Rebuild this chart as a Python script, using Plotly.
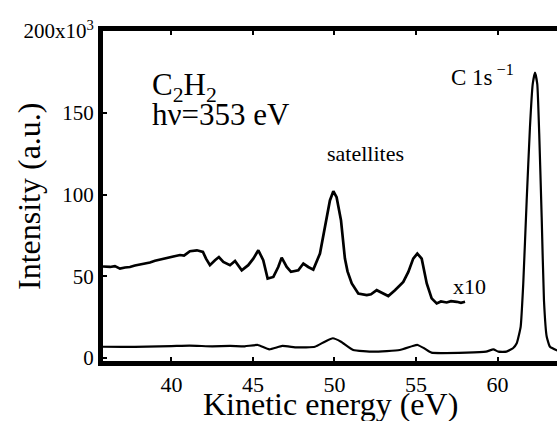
import plotly.graph_objects as go

# Upper trace: satellite region magnified x10 (kinetic energy in eV, intensity in 10^3 counts)
sat_energy = [35.80, 36.23, 36.53, 36.84, 37.15, 37.45, 37.76, 38.07, 38.37, 38.68,
              38.99, 39.29, 39.60, 39.91, 40.21, 40.52, 40.77, 40.95, 41.13, 41.56,
              41.93, 42.12, 42.36, 42.67, 42.91, 43.18, 43.59, 43.90, 44.31, 44.71,
              45.02, 45.33, 45.63, 45.90, 46.25, 46.55, 46.76, 47.07, 47.33, 47.78,
              48.09, 48.39, 48.70, 49.11, 49.42, 49.72, 49.93, 50.13, 50.40, 50.64,
              50.80, 51.06, 51.46, 51.98, 52.24, 52.59, 52.90, 53.30, 53.71, 54.22,
              54.53, 54.83, 55.08, 55.35, 55.66, 55.96, 56.27, 56.53, 56.88, 57.15,
              57.50, 57.76, 58.01]
sat_intensity = [56.0, 55.7, 56.2, 54.7, 55.4, 55.7, 56.6, 57.2, 57.6, 58.4,
                 59.5, 60.2, 60.6, 61.6, 62.0, 63.0, 62.6, 63.9, 65.3, 65.9,
                 64.9, 60.8, 56.8, 59.8, 61.8, 58.8, 56.8, 59.4, 53.7, 56.8,
                 60.8, 65.9, 59.8, 48.6, 49.6, 55.7, 61.4, 55.7, 52.7, 53.7,
                 57.8, 55.7, 54.1, 63.9, 80.1, 96.4, 102.0, 98.4, 84.2, 60.8,
                 53.0, 45.6, 39.5, 38.5, 39.0, 41.5, 39.9, 37.9, 41.5, 46.6,
                 52.7, 60.8, 63.9, 60.8, 45.6, 36.5, 33.4, 34.6, 34.0, 34.8,
                 34.4, 33.8, 34.4]

# Lower trace: full spectrum with the C 1s main line
full_energy = [35.80, 37.00, 38.50, 40.00, 41.10, 42.50, 43.60, 44.50, 45.30, 46.00,
               46.80, 47.70, 48.80, 49.40, 49.90, 50.40, 51.15, 52.40, 54.00, 54.80,
               55.10, 55.50, 55.95, 58.10, 59.30, 59.75, 60.05, 60.55, 60.95, 61.18,
               61.42, 61.58, 61.79, 61.99, 62.16, 62.30, 62.44, 62.56, 62.71, 62.85,
               63.02, 63.22, 63.70]
full_intensity = [6.9, 6.8, 7.0, 7.3, 7.6, 7.2, 7.4, 7.2, 8.0, 5.3,
                  7.4, 6.5, 6.9, 10.0, 12.1, 10.0, 4.9, 3.9, 4.9, 7.4,
                  8.0, 6.0, 3.3, 3.3, 3.9, 5.3, 3.9, 3.9, 6.0, 9.0,
                  19.1, 45.6, 96.4, 141.0, 167.5, 174.6, 167.5, 137.0, 86.2, 35.4,
                  13.0, 6.9, 4.5]

x_ticks = [40, 45, 50, 55, 60]
y_ticks = [0, 50, 100, 150, 200]
y_tick_text = ["0", "50", "100", "150", "200x10<sup>3</sup>"]

serif = "Times New Roman"

fig = go.Figure()
fig.add_trace(go.Scatter(x=sat_energy, y=sat_intensity, mode="lines",
                         line=dict(color="black", width=2.7), hoverinfo="skip"))
fig.add_trace(go.Scatter(x=full_energy, y=full_intensity, mode="lines",
                         line=dict(color="black", width=2.2, shape="spline", smoothing=0.4),
                         hoverinfo="skip"))

annotations = [
    dict(x=38.7, y=166, xref="x", yref="y", text="C<sub>2</sub>H<sub>2</sub>",
         xanchor="left", yanchor="middle", showarrow=False,
         font=dict(family=serif, size=31, color="black")),
    dict(x=38.7, y=149, xref="x", yref="y", text="hν=353 eV",
         xanchor="left", yanchor="middle", showarrow=False,
         font=dict(family=serif, size=31, color="black")),
    dict(x=51.9, y=125, xref="x", yref="y", text="satellites",
         xanchor="center", yanchor="middle", showarrow=False,
         font=dict(family=serif, size=22, color="black")),
    dict(x=58.3, y=43.5, xref="x", yref="y", text="x10",
         xanchor="center", yanchor="middle", showarrow=False,
         font=dict(family=serif, size=22, color="black")),
    dict(x=57.0, y=173, xref="x", yref="y", text="C 1s<sup> −1</sup>",
         xanchor="left", yanchor="middle", showarrow=False,
         font=dict(family=serif, size=23, color="black")),
    dict(x=0.5, y=0, xref="paper", yref="paper", text="Kinetic energy (eV)",
         xanchor="center", yanchor="middle", yshift=-43, showarrow=False,
         font=dict(family=serif, size=32, color="black")),
    dict(x=0, y=0.5, xref="paper", yref="paper", text="Intensity (a.u.)",
         xanchor="center", yanchor="middle", xshift=-74, textangle=-90, showarrow=False,
         font=dict(family=serif, size=32, color="black")),
]

fig.update_layout(
    width=557, height=421,
    margin=dict(l=103, r=0, t=31, b=60),
    paper_bgcolor="white", plot_bgcolor="white",
    font=dict(family=serif, color="black"),
    showlegend=False,
    annotations=annotations,
    xaxis=dict(range=[35.8, 63.65], tickvals=x_ticks, ticktext=[str(v) for v in x_ticks],
               showline=True, linecolor="black", linewidth=5, mirror="ticks",
               ticks="inside", ticklen=4, tickwidth=1.5, tickcolor="black",
               showgrid=False, zeroline=False,
               tickfont=dict(family=serif, size=22, color="black")),
    yaxis=dict(range=[-1.8, 200], tickvals=y_ticks, ticktext=y_tick_text,
               showline=True, linecolor="black", linewidth=5, mirror=False,
               ticks="inside", ticklen=4, tickwidth=1.5, tickcolor="black",
               showgrid=False, zeroline=False,
               tickfont=dict(family=serif, size=21, color="black")),
)

fig.write_html("out.html")
